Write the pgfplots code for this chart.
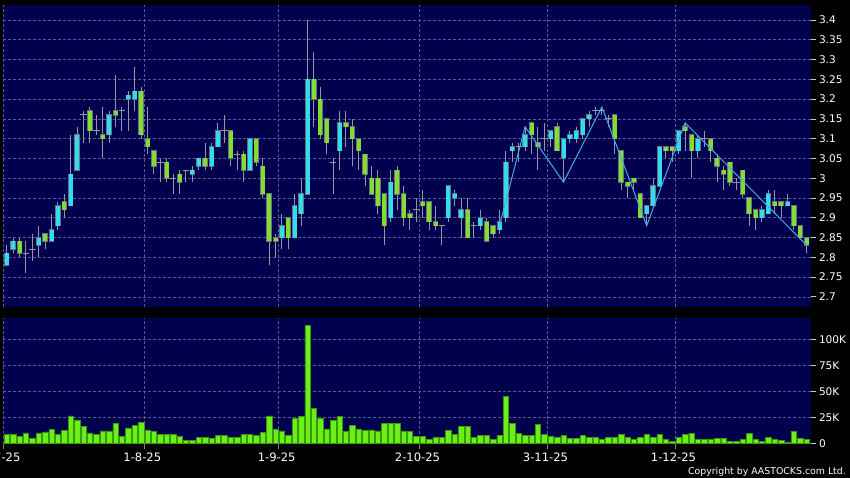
\documentclass[border=0pt]{standalone}
\usepackage{fontspec}
\setmainfont{DejaVu Sans}
\usepackage{pgfplots}
\usepackage{pgfplotstable}
\pgfplotsset{compat=1.18}

\definecolor{panel}{RGB}{0,0,78}
\definecolor{gridc}{RGB}{88,88,140}
\definecolor{upc}{RGB}{45,222,240}
\definecolor{downc}{RGB}{128,222,48}
\definecolor{edgec}{RGB}{110,110,125}
\definecolor{wickc}{RGB}{150,150,162}
\definecolor{volc}{RGB}{104,240,24}
\definecolor{voledge}{RGB}{60,150,10}
\definecolor{zigc}{RGB}{70,170,230}

% x = trading day, o h l c = price, v = volume (thousands)
\pgfplotstableread{
x o h l c v
0 2.78 2.83 2.78 2.81 9
1 2.82 2.85 2.81 2.84 9
2 2.84 2.85 2.80 2.81 7
3 2.81 2.84 2.76 2.81 10
4 2.82 2.86 2.79 2.82 5
5 2.83 2.88 2.80 2.85 10
6 2.86 2.86 2.82 2.84 11
7 2.84 2.91 2.84 2.87 13.5
8 2.88 2.94 2.87 2.93 9
9 2.94 2.96 2.90 2.92 12.5
10 2.93 3.11 2.93 3.01 26.5
11 3.02 3.13 3.02 3.11 22.5
12 3.16 3.17 3.09 3.16 16
13 3.17 3.18 3.09 3.12 10
14 3.12 3.16 3.11 3.12 9
15 3.11 3.18 3.05 3.10 12
16 3.11 3.17 3.09 3.16 12
17 3.17 3.26 3.13 3.16 19.5
18 3.17 3.18 3.12 3.17 7
19 3.20 3.22 3.12 3.21 15
20 3.20 3.28 3.17 3.22 17
21 3.22 3.23 3.10 3.11 20
22 3.10 3.18 3.06 3.08 13
23 3.07 3.07 3.01 3.03 11.5
24 3.04 3.05 2.99 3.04 8.5
25 3.04 3.05 2.99 3.00 8.5
26 3.00 3.01 2.96 3.00 9
27 3.01 3.02 2.96 2.99 7
28 3.02 3.02 2.99 3.02 3
29 3.01 3.03 2.99 3.02 3
30 3.03 3.05 3.02 3.05 6
31 3.05 3.09 3.02 3.03 6
32 3.03 3.09 3.02 3.08 5
33 3.08 3.14 3.08 3.12 7.5
34 3.12 3.16 3.09 3.12 7.5
35 3.12 3.12 3.03 3.05 6
36 3.06 3.07 3.02 3.06 6
37 3.06 3.07 2.99 3.02 8.5
38 3.02 3.10 3.02 3.10 8.5
39 3.10 3.10 3.03 3.04 8
40 3.03 3.05 2.95 2.96 10.5
41 2.96 2.96 2.78 2.84 26.5
42 2.85 2.86 2.80 2.84 14
43 2.85 2.91 2.82 2.88 12
44 2.90 2.90 2.82 2.85 8
45 2.85 2.96 2.85 2.93 24
46 2.91 3.00 2.88 2.96 26
47 2.96 3.40 2.96 3.25 113.5
48 3.25 3.32 3.13 3.20 33.5
49 3.20 3.23 3.10 3.11 24
50 3.15 3.15 3.06 3.09 14
51 3.04 3.05 2.96 3.04 22.5
52 3.07 3.17 3.02 3.14 26
53 3.14 3.17 3.08 3.13 11.5
54 3.13 3.15 3.03 3.10 17
55 3.10 3.10 3.02 3.07 14
56 3.06 3.06 2.98 3.01 12.5
57 3.00 3.03 2.96 2.96 13
58 3.00 3.02 2.91 2.93 12
59 2.96 2.96 2.83 2.88 19.5
60 2.90 3.02 2.89 2.99 19.5
61 3.02 3.03 2.92 2.96 19
62 2.96 2.98 2.88 2.90 12
63 2.91 2.92 2.87 2.90 11.5
64 2.92 2.95 2.89 2.92 7
65 2.94 2.97 2.90 2.93 7
66 2.94 2.94 2.87 2.89 4
67 2.89 2.93 2.87 2.88 6
68 2.88 2.88 2.83 2.88 5.5
69 2.90 2.98 2.89 2.98 12.5
70 2.95 2.97 2.93 2.96 8.5
71 2.90 2.95 2.85 2.92 16
72 2.92 2.95 2.85 2.85 16.5
73 2.88 2.89 2.85 2.88 5.5
74 2.88 2.92 2.87 2.90 7.5
75 2.89 2.90 2.84 2.84 8
76 2.88 2.88 2.85 2.86 3.5
77 2.87 2.92 2.86 2.89 7.5
78 2.90 3.07 2.89 3.04 45.5
79 3.07 3.09 3.04 3.08 19
80 3.08 3.09 3.04 3.08 9.5
81 3.08 3.13 3.07 3.11 8
82 3.14 3.14 3.06 3.11 8
83 3.09 3.13 3.02 3.08 18
84 3.10 3.14 3.07 3.10 8.5
85 3.10 3.12 3.08 3.12 6.5
86 3.13 3.14 3.07 3.07 5.5
87 3.05 3.10 2.99 3.10 7.5
88 3.10 3.12 3.09 3.11 5
89 3.10 3.13 3.09 3.12 4.5
90 3.11 3.15 3.10 3.15 7.5
91 3.15 3.17 3.13 3.16 5.5
92 3.17 3.18 3.16 3.17 6
93 3.17 3.18 3.16 3.17 3.5
94 3.15 3.16 3.13 3.15 5.5
95 3.16 3.16 3.06 3.10 6
96 3.07 3.07 2.97 2.99 9
97 2.99 2.99 2.95 2.98 6
98 3.00 3.00 2.97 2.99 3.5
99 2.96 2.96 2.90 2.90 6
100 2.91 2.93 2.88 2.93 8.5
101 2.93 3.00 2.93 2.98 6
102 2.98 3.08 2.98 3.08 9
103 3.08 3.08 3.05 3.07 4
104 3.08 3.08 3.04 3.07 2
105 3.07 3.12 3.06 3.12 6
106 3.13 3.14 3.07 3.12 9
107 3.11 3.11 3.00 3.07 9.5
108 3.07 3.11 3.05 3.10 4
109 3.10 3.12 3.08 3.10 4
110 3.10 3.10 3.04 3.07 4
111 3.05 3.06 2.99 3.03 5
112 3.02 3.03 2.97 3.01 4.5
113 3.04 3.04 2.98 2.99 2
114 2.99 3.00 2.97 2.99 2
115 3.02 3.02 2.95 2.96 4
116 2.95 2.95 2.88 2.91 9.5
117 2.92 2.92 2.87 2.90 4
118 2.90 2.93 2.89 2.92 2
119 2.91 2.97 2.91 2.96 6
120 2.94 2.97 2.91 2.93 4
121 2.94 2.94 2.90 2.93 3
122 2.93 2.96 2.93 2.94 1.5
123 2.93 2.93 2.87 2.88 11.5
124 2.88 2.88 2.85 2.85 5
125 2.85 2.85 2.81 2.83 4
}\candles

\pgfplotsset{
  panel/.style={
    scale only axis, width=808bp,
    xmin=-0.58, xmax=125.67,
    axis background/.style={fill=panel},
    axis line style={draw=none},
    xtick={-0.5,21.5,42.5,64.5,84.5,104.5},
    xmajorgrids, ymajorgrids,
    grid style={gridc, line width=0.6bp, dash pattern=on 2.5bp off 2.5bp},
    yticklabel pos=right, ytick pos=right,
    tick align=outside,
    major tick length=4.5bp,
    tick style={white!80!black, line width=0.7bp},
    ticklabel style={text=white, font=\fontsize{10.6}{12}\selectfont},
    /pgf/number format/assume math mode=true,
  },
  body/.style={quiver={u=0, v=\thisrow{c}-\thisrow{o}}, no markers},
}

\begin{document}
\begin{tikzpicture}
\fill[black] (0,0) rectangle (850bp,478bp);

% price panel
\begin{axis}[panel,
  at={(3bp,473bp)}, anchor=north west, height=301.7bp,
  ymin=2.675, ymax=3.438,
  ytick={2.7,2.75,2.8,2.85,2.9,2.95,3.0,3.05,3.1,3.15,3.2,3.25,3.3,3.35,3.4},
  yticklabel style={/pgf/number format/fixed, /pgf/number format/precision=2},
  xticklabels={}, xtick pos=bottom, x tick style={draw=none},
]
% wicks
\addplot[quiver={u=0, v=\thisrow{h}-\thisrow{l}}, no markers, wickc, line width=1bp]
  table[x=x, y=l] {\candles};
% doji
\addplot[quiver={u=1, v=0}, no markers, wickc, line width=1bp,
  x filter/.expression={\thisrow{c}==\thisrow{o} ? x : nan}]
  table[x expr=\thisrow{x}-0.5, y=o] {\candles};
% up candles
\addplot[body, edgec, line width=5.4bp, shorten <=-0.6bp, shorten >=-0.6bp,
  x filter/.expression={\thisrow{c}>\thisrow{o} ? x : nan}]
  table[x=x, y=o] {\candles};
\addplot[body, upc, line width=4bp,
  x filter/.expression={\thisrow{c}>\thisrow{o} ? x : nan}]
  table[x=x, y=o] {\candles};
% down candles
\addplot[body, edgec, line width=5.4bp, shorten <=-0.6bp, shorten >=-0.6bp,
  x filter/.expression={\thisrow{c}<\thisrow{o} ? x : nan}]
  table[x=x, y=o] {\candles};
\addplot[body, downc, line width=4bp,
  x filter/.expression={\thisrow{c}<\thisrow{o} ? x : nan}]
  table[x=x, y=o] {\candles};
% zigzag
\addplot[zigc, line width=1bp, no markers] coordinates {
  (77,2.88) (81,3.13) (87,2.99) (93,3.18) (100,2.88) (106,3.14) (125,2.83)};
\end{axis}

% volume panel
\begin{axis}[panel,
  at={(3bp,159.7bp)}, anchor=north west, height=125.7bp,
  ymin=-0.6, ymax=120.2,
  ytick={0,25,50,75,100},
  yticklabels={0,25K,50K,75K,100K},
  xticklabels={2-7-25,1-8-25,1-9-25,2-10-25,3-11-25,1-12-25},
  xtick pos=bottom,
  x tick style={gray},
  xticklabel style={font=\fontsize{11.6}{13}\selectfont, yshift=-0.5bp, xshift=-2bp},
]
\addplot[ybar, bar width=5.4bp, bar shift=0pt, fill=volc, draw=voledge, line width=0.5bp]
  table[x=x, y=v] {\candles};
\end{axis}

\node[anchor=east, text=white, font=\fontsize{9.4}{11}\selectfont, inner sep=0pt]
  at (846bp,6.5bp) {Copyright by AASTOCKS.com Ltd.};

\pgfresetboundingbox
\path[use as bounding box] (0,0) rectangle (850bp,478bp);
\end{tikzpicture}
\end{document}
